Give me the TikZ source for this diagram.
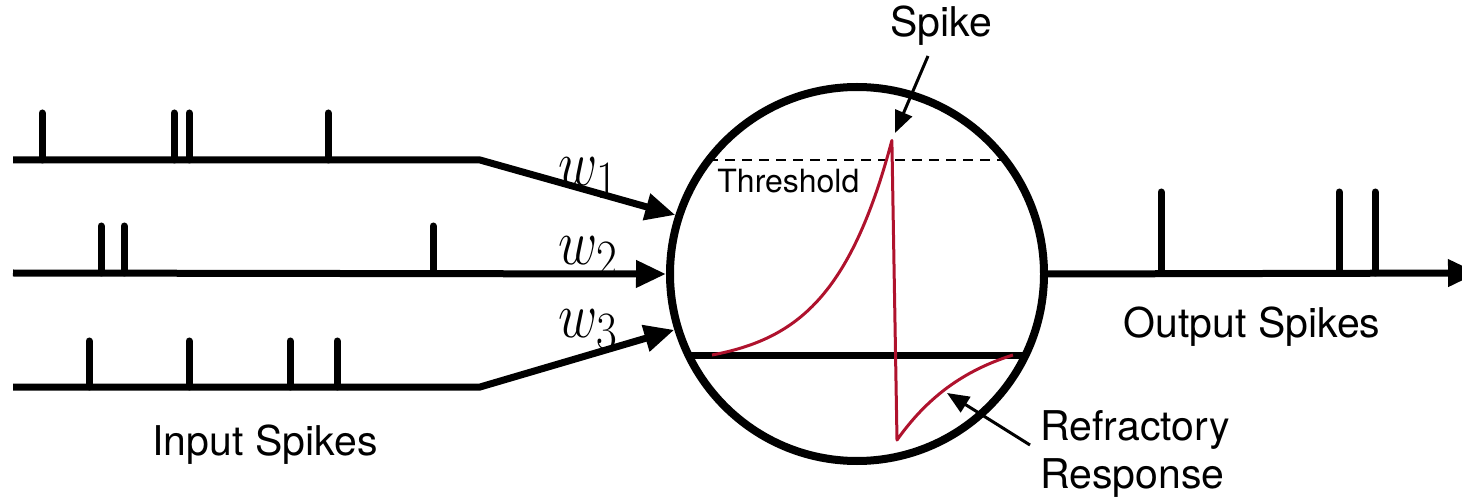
\documentclass[tikz,border=0pt]{standalone}
\usepackage[no-math]{fontspec}
\setmainfont{TeX Gyre Heros}
\usepackage{graphicx}
\usetikzlibrary{arrows.meta}
\definecolor{spikered}{RGB}{175,18,45}
\newcommand{\wsym}[1]{\scalebox{1.085}[1.3]{\Huge$w_{#1}$}}
\begin{document}
\begin{tikzpicture}[x=0.5pt,y=-0.5pt,
  wire/.style={line width=3.5pt},
  tick/.style={line width=3.5pt, line cap=round},
  inarrow/.style={wire,-{Triangle[length=15pt,width=13pt]}},
  callout/.style={line width=1.5pt,-{Triangle[length=11pt,width=9pt]}},
  lbl/.style={font=\fontsize{20.5}{24}\selectfont, inner sep=0pt},
  thrlbl/.style={font=\fontsize{16}{19}\selectfont, inner sep=0pt},
  wlbl/.style={inner sep=0pt, anchor=base west},
  potential/.style={spikered, line width=1.5pt, line join=round}]
\clip (0,0) rectangle (1462,497);

% neuron
\node[circle, draw, line width=4pt, minimum size=187pt, inner sep=0pt] (neuron) at (857,274) {};

% input lines
\coordinate (in1) at (13,160);
\coordinate (b1) at (480,160);
\coordinate (in2) at (13,273);
\coordinate (in3) at (13,387);
\coordinate (b3) at (480,387);
\draw[inarrow] (in1) -- (b1) -- (neuron.162.5);
\draw[inarrow] (in2) -- (neuron.west);
\draw[inarrow] (in3) -- (b3) -- (neuron.197);

% input spikes
\foreach \x in {42,174,189,328} \draw[tick] (\x,160) -- (\x,113);
\foreach \x in {101,124,433} \draw[tick] (\x,273) -- (\x,226);
\foreach \x in {89,189,290,337} \draw[tick] (\x,387) -- (\x,341);

% weights
\node[wlbl] (w1) at (558,186) {\wsym{1}};
\node[wlbl] (w2) at (558,265) {\wsym{2}};
\node[wlbl] (w3) at (558,337) {\wsym{3}};

% output
\coordinate (outend) at (1478,273);
\draw[wire,-{Triangle[length=15pt,width=13pt]}] (neuron.east) -- (outend);
\foreach \x in {1161,1339,1375} \draw[tick] (\x,273) -- (\x,192);

% inside the neuron
\draw[line width=1pt, dash pattern=on 5pt off 3.5pt] (708,160) -- (1004,160);
\draw[wire] (688,355) -- (1026,355);
\draw[potential] plot[domain=0:1,samples=80] ({712+180*\x},{355-215*(exp(3*\x)-1)/19.0855})
  -- (897,440)
  -- plot[domain=0:1,samples=60] ({897+116*\x},{355+85*(exp(-1.5*\x)-0.22313)/0.77687});

% labels
\node[thrlbl, anchor=base west] (thr) at (717,193) {Threshold};
\node[lbl, anchor=base] (inlbl) at (265,455) {Input Spikes};
\node[lbl, anchor=base] (outlbl) at (1252,337) {Output Spikes};
\node[lbl, anchor=base] (spikelbl) at (941,37) {Spike};
\node[lbl, anchor=base west] (refr1) at (1040,440) {Refractory};
\node[lbl, anchor=base west] (refr2) at (1040,488) {Response};

% callouts
\coordinate (spkfrom) at (928,56);
\coordinate (peak) at (895,133);
\coordinate (refrfrom) at (1030,445);
\coordinate (trough) at (947,393);
\draw[callout] (spkfrom) -- (peak);
\draw[callout] (refrfrom) -- (trough);
\end{tikzpicture}
\end{document}
